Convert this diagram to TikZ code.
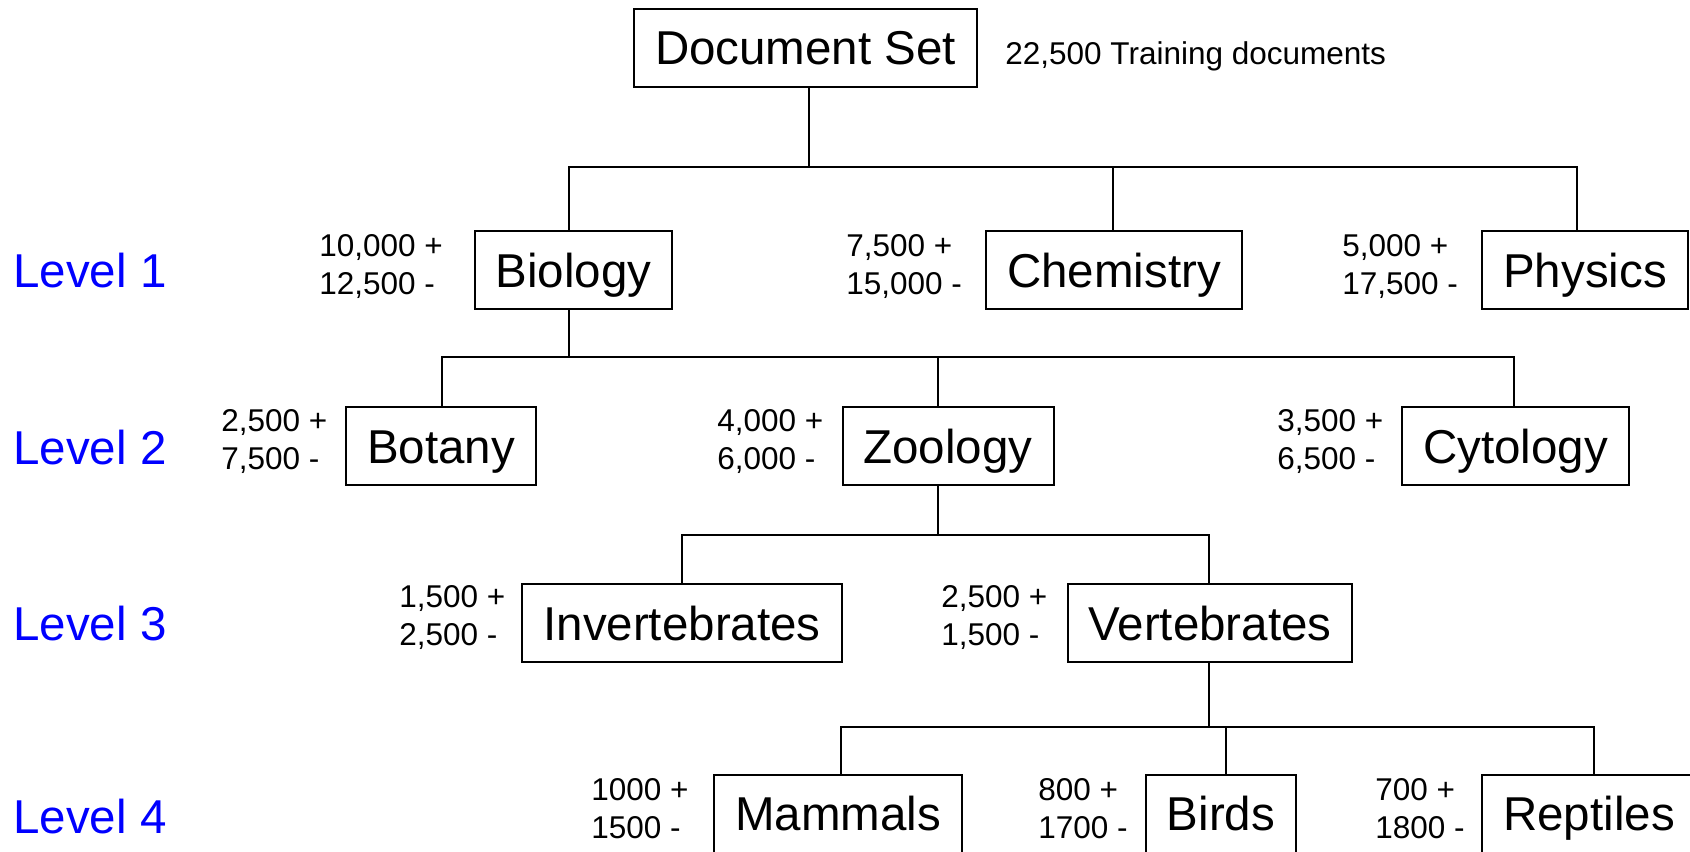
\documentclass[tikz,border=0pt]{standalone}
\usepackage{fontspec}
\setmainfont{Liberation Sans}
\begin{document}
\begin{tikzpicture}[x=0.5pt,y=-0.5pt,
  box/.style={draw, line width=1pt, font=\fontsize{23.75}{28}\selectfont, inner xsep=10.5pt, minimum height=39pt, text height=17pt, text depth=0pt},
  cnt/.style={font=\fontsize{15.75}{19}\selectfont, align=left, anchor=west, inner sep=0pt},
  lvl/.style={font=\fontsize{23.75}{28}\selectfont, text=blue, anchor=base west, inner sep=0pt},
  link/.style={line width=1pt}]
\useasboundingbox (0,0) rectangle (1690,851);

% level labels
\node[lvl] (l1) at (13,287) {Level 1};
\node[lvl] (l2) at (13,464) {Level 2};
\node[lvl] (l3) at (13,640) {Level 3};
\node[lvl] (l4) at (13,833) {Level 4};

% boxes
\node[box] (doc) at (805.5,47.5) {Document Set};
\node[font=\fontsize{15.75}{19}\selectfont, anchor=base west, inner sep=0pt] (tot) at (1005,64) {22,500 Training documents};

\node[box] (bio) at (573.5,270) {Biology};
\node[box] (chem) at (1114,270) {Chemistry};
\node[box] (phys) at (1585,270) {Physics};

\node[box] (bot) at (441,446) {Botany};
\node[box] (zoo) at (948,446) {Zoology};
\node[box] (cyt) at (1515.5,446) {Cytology};

\node[box] (inv) at (682,623) {Invertebrates};
\node[box] (vert) at (1210,623) {Vertebrates};

\node[box] (mam) at (838,813.5) {Mammals};
\node[box] (bird) at (1221,813.5) {Birds};
\node[box] (rep) at (1589,813.5) {Reptiles};

% counts
\node[cnt] (cbio) at (319,266.5) {10,000 +\\12,500 -};
\node[cnt] (cchem) at (846,266.5) {7,500 +\\15,000 -};
\node[cnt] (cphys) at (1342,266.5) {5,000 +\\17,500 -};
\node[cnt] (cbot) at (221,442) {2,500 +\\7,500 -};
\node[cnt] (czoo) at (717,442) {4,000 +\\6,000 -};
\node[cnt] (ccyt) at (1277,442) {3,500 +\\6,500 -};
\node[cnt] (cinv) at (399,618) {1,500 +\\2,500 -};
\node[cnt] (cvert) at (941,618) {2,500 +\\1,500 -};
\node[cnt] (cmam) at (591,809) {1000 +\\1500 -};
\node[cnt] (cbird) at (1038,809) {800 +\\1700 -};
\node[cnt] (crep) at (1375,809) {700 +\\1800 -};

% bus junctions
\coordinate (a0) at (809,167);
\coordinate (a1) at (569,167);
\coordinate (a2) at (1113,167);
\coordinate (a3) at (1577,167);

\coordinate (b0) at (569,357);
\coordinate (b1) at (442,357);
\coordinate (b2) at (938,357);
\coordinate (b3) at (1514,357);

\coordinate (c0) at (938,535);
\coordinate (c1) at (682,535);
\coordinate (c2) at (1209,535);

\coordinate (d0) at (1209,727);
\coordinate (d1) at (841,727);
\coordinate (d2) at (1226,727);
\coordinate (d3) at (1594,727);

% connectors
\draw[link] (doc.south -| a0) -- (a0);
\draw[link] (bio.north -| a1) -- (a1) -- (a3) -- (phys.north -| a3);
\draw[link] (a2) -- (chem.north -| a2);

\draw[link] (bio.south -| b0) -- (b0);
\draw[link] (bot.north -| b1) -- (b1) -- (b3) -- (cyt.north -| b3);
\draw[link] (b2) -- (zoo.north -| b2);

\draw[link] (zoo.south -| c0) -- (c0);
\draw[link] (inv.north -| c1) -- (c1) -- (c2) -- (vert.north -| c2);

\draw[link] (vert.south -| d0) -- (d0);
\draw[link] (mam.north -| d1) -- (d1) -- (d3) -- (rep.north -| d3);
\draw[link] (d2) -- (bird.north -| d2);
\end{tikzpicture}
\end{document}
